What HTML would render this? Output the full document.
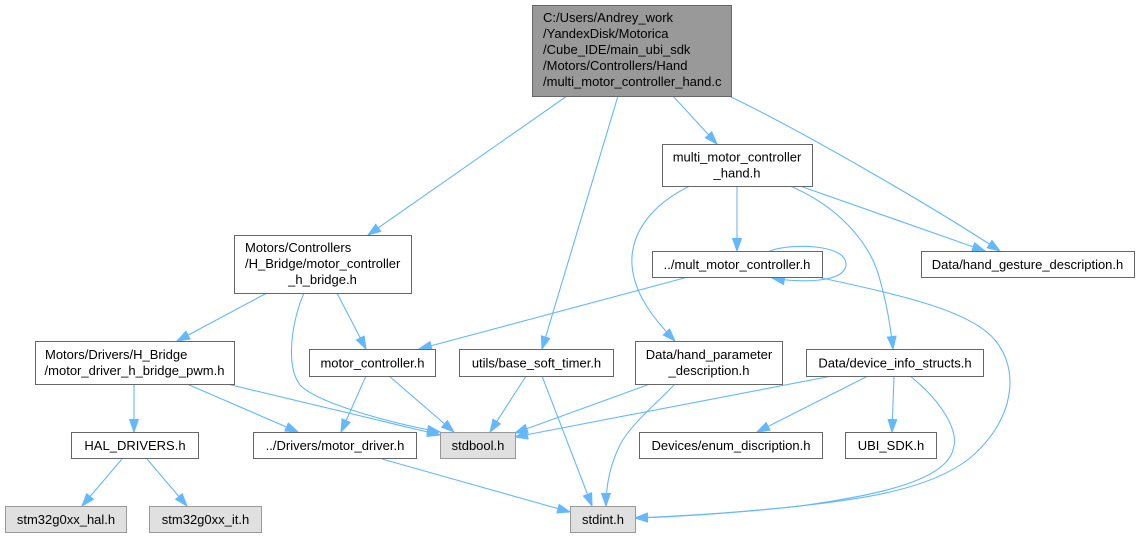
<!DOCTYPE html>
<html>
<head>
<meta charset="utf-8">
<style>
html,body{margin:0;padding:0;background:#fff;}
svg{display:block;}
text{font-family:"Liberation Sans",Arial,sans-serif;font-size:13px;fill:#000;}
.n{fill:#fff;stroke:#666;stroke-width:1;}
.g{fill:#e0e0e0;stroke:#999;stroke-width:1;}
.t{fill:#999;stroke:#666;stroke-width:1;}
.e{fill:none;stroke:#63b8ff;stroke-width:1.1;marker-end:url(#a);}
</style>
</head>
<body>
<svg width="1140" height="539" viewBox="0 0 1140 539" xmlns="http://www.w3.org/2000/svg">
<defs>
<marker id="a" markerUnits="userSpaceOnUse" markerWidth="16" markerHeight="12" refX="13" refY="5" orient="auto">
<path d="M0.5,0.6 L13,5 L0.5,9.4 z" fill="#63b8ff" stroke="#63b8ff" stroke-width="1"/>
</marker>
</defs>

<!-- edges -->
<path class="e" d="M567,96 L368,235"/>
<path class="e" d="M618,96 L542,349"/>
<path class="e" d="M673,96 L717,144"/>
<path class="e" d="M729,96 C800,130 930,205 1000,251"/>
<path class="e" d="M800,186 L985,251"/>
<path class="e" d="M737,186 L737,251"/>
<path class="e" d="M690,186 C650,205 630,235 632,265 C634,295 655,320 675,341"/>
<path class="e" d="M790,186 C835,205 870,240 880,280 C887,305 891,330 893,349"/>
<path class="e" d="M770,251 C790,243 846,244 846,264 C846,283 800,283 772,278"/>
<path class="e" d="M688,277 L419,349"/>
<path class="e" d="M817,277 C900,295 970,310 995,340 C1020,370 1015,420 970,458 C930,490 860,500 780,508 C720,514 670,517 635,518"/>
<path class="e" d="M910,376 C940,400 960,430 953,450 C945,480 880,495 800,506 C740,513 680,516 635,518"/>
<path class="e" d="M832,376 L515,437"/>
<path class="e" d="M868,376 L757,432"/>
<path class="e" d="M894,376 L892,432"/>
<path class="e" d="M650,384 L515,433"/>
<path class="e" d="M675,384 C655,405 630,425 620,445 C610,465 606,485 606,506"/>
<path class="e" d="M526,376 L490,432"/>
<path class="e" d="M542,376 L592,506"/>
<path class="e" d="M366,376 L341,432"/>
<path class="e" d="M389,376 L454,432"/>
<path class="e" d="M267,293 L177,341"/>
<path class="e" d="M337,293 L366,349"/>
<path class="e" d="M304,293 C292,320 285,365 300,385 C320,405 400,425 440,432"/>
<path class="e" d="M134,384 L134,432"/>
<path class="e" d="M187,384 L298,432"/>
<path class="e" d="M227,384 L440,435"/>
<path class="e" d="M122,459 L82,506"/>
<path class="e" d="M147,459 L187,506"/>
<path class="e" d="M382,459 L570,512"/>

<!-- nodes -->
<rect class="t" x="532.5" y="5.5" width="199" height="91"/>
<text x="543" y="22">C:/Users/Andrey_work</text>
<text x="543" y="38">/YandexDisk/Motorica</text>
<text x="543" y="54">/Cube_IDE/main_ubi_sdk</text>
<text x="543" y="70">/Motors/Controllers/Hand</text>
<text x="543" y="86">/multi_motor_controller_hand.c</text>

<rect class="n" x="662.5" y="144.5" width="150" height="42"/>
<text x="737" y="161.5" text-anchor="middle">multi_motor_controller</text>
<text x="737" y="177.5" text-anchor="middle">_hand.h</text>

<rect class="n" x="234.5" y="235.5" width="177" height="58"/>
<text x="245" y="252">Motors/Controllers</text>
<text x="245" y="268">/H_Bridge/motor_controller</text>
<text x="322.5" y="284" text-anchor="middle">_h_bridge.h</text>

<rect class="n" x="652.5" y="251.5" width="170" height="26"/>
<text x="737" y="269" text-anchor="middle">../mult_motor_controller.h</text>

<rect class="n" x="921.5" y="251.5" width="213" height="26"/>
<text x="1027.5" y="269" text-anchor="middle">Data/hand_gesture_description.h</text>

<rect class="n" x="35.5" y="341.5" width="199" height="43"/>
<text x="45" y="359">Motors/Drivers/H_Bridge</text>
<text x="134.5" y="375" text-anchor="middle">/motor_driver_h_bridge_pwm.h</text>

<rect class="n" x="309.5" y="349.5" width="126" height="27"/>
<text x="372.5" y="367.5" text-anchor="middle">motor_controller.h</text>

<rect class="n" x="459.5" y="349.5" width="154" height="27"/>
<text x="536.5" y="367.5" text-anchor="middle">utils/base_soft_timer.h</text>

<rect class="n" x="635.5" y="341.5" width="147" height="43"/>
<text x="709" y="359" text-anchor="middle">Data/hand_parameter</text>
<text x="709" y="375" text-anchor="middle">_description.h</text>

<rect class="n" x="806.5" y="349.5" width="177" height="27"/>
<text x="895" y="367.5" text-anchor="middle">Data/device_info_structs.h</text>

<rect class="n" x="71.5" y="432.5" width="127" height="26"/>
<text x="135" y="450" text-anchor="middle">HAL_DRIVERS.h</text>

<rect class="n" x="253.5" y="432.5" width="163" height="26"/>
<text x="335" y="450" text-anchor="middle">../Drivers/motor_driver.h</text>

<rect class="g" x="440.5" y="432.5" width="75" height="26"/>
<text x="478" y="450" text-anchor="middle">stdbool.h</text>

<rect class="n" x="639.5" y="432.5" width="183" height="26"/>
<text x="731" y="450" text-anchor="middle">Devices/enum_discription.h</text>

<rect class="n" x="845.5" y="432.5" width="91" height="26"/>
<text x="891" y="450" text-anchor="middle">UBI_SDK.h</text>

<rect class="g" x="5.5" y="506.5" width="121" height="26"/>
<text x="66" y="524" text-anchor="middle">stm32g0xx_hal.h</text>

<rect class="g" x="149.5" y="506.5" width="112" height="26"/>
<text x="205.5" y="524" text-anchor="middle">stm32g0xx_it.h</text>

<rect class="g" x="570.5" y="506.5" width="65" height="26"/>
<text x="603" y="524" text-anchor="middle">stdint.h</text>
</svg>
</body>
</html>
